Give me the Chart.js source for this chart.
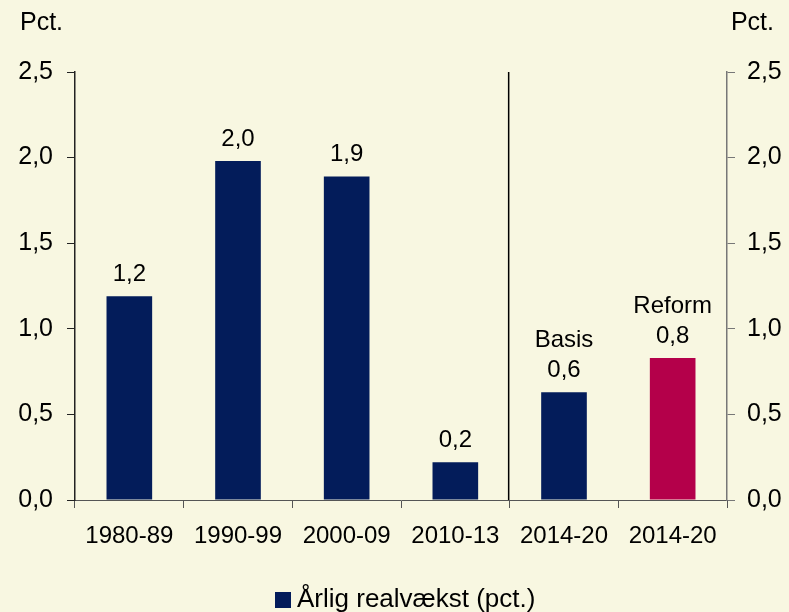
<!DOCTYPE html>
<html>
<head>
<meta charset="utf-8">
<script src="https://cdn.jsdelivr.net/npm/chart.js@4.4.0/dist/chart.umd.min.js"></script>
<style>
  html,body{margin:0;padding:0;background:#F8F7E1;}
  #wrap{width:789px;height:612px;}
</style>
</head>
<body>
<div id="wrap"><canvas id="chart" width="789" height="612"></canvas></div>
<script>
// data
var periods = ["1980-89", "1990-99", "2000-09", "2010-13", "2014-20", "2014-20"];
var growth = [1.19, 1.98, 1.89, 0.22, 0.63, 0.83];
var valueLabels = ["1,2", "2,0", "1,9", "0,2", "0,6", "0,8"];
var topLabels = ["", "", "", "", "Basis", "Reform"];
var barColors = ["#031C5A", "#031C5A", "#031C5A", "#031C5A", "#031C5A", "#B4004A"];
var seriesName = "Årlig realvækst (pct.)";

var FONT = 'Arial, "Liberation Sans", sans-serif';
Chart.defaults.font.family = FONT;
Chart.defaults.color = '#000';

function fmt(v){ return v.toFixed(1).replace('.', ','); }

var extras = {
  id: 'extras',
  afterDatasetsDraw: function(chart){
    var ctx = chart.ctx;
    var area = chart.chartArea;
    var xs = chart.scales.x;
    var meta = chart.getDatasetMeta(0);
    ctx.save();
    // divider between history and projections
    var sx = (xs.getPixelForTick(3) + xs.getPixelForTick(4)) / 2 - 1;
    ctx.strokeStyle = '#000';
    ctx.lineWidth = 1.5;
    ctx.beginPath();
    ctx.moveTo(sx, area.top);
    ctx.lineTo(sx, area.bottom);
    ctx.stroke();
    // labels on bars
    ctx.fillStyle = '#000';
    ctx.font = '24px ' + FONT;
    ctx.textAlign = 'center';
    ctx.textBaseline = 'middle';
    meta.data.forEach(function(bar, i){
      ctx.fillText(valueLabels[i], bar.x, bar.y - 22);
      if(topLabels[i]) ctx.fillText(topLabels[i], bar.x, bar.y - 52);
    });
    // unit labels
    ctx.font = '25px ' + FONT;
    ctx.textAlign = 'left';
    ctx.fillText('Pct.', 20, 23);
    ctx.textAlign = 'right';
    ctx.fillText('Pct.', 774, 23);
    // legend
    var ds = chart.data.datasets[0];
    ctx.fillStyle = ds.backgroundColor[0];
    ctx.fillRect(275, 592, 16, 16);
    ctx.fillStyle = '#000';
    ctx.font = '26px ' + FONT;
    ctx.textAlign = 'left';
    ctx.fillText(ds.label, 297, 600);
    ctx.restore();
  }
};

var ctx1 = document.getElementById('chart');
var chart = new Chart(ctx1, {
  type: 'bar',
  data: {
    labels: periods,
    datasets: [{
      label: seriesName,
      data: growth,
      backgroundColor: barColors,
      barPercentage: 0.42,
      categoryPercentage: 1
    }]
  },
  options: {
    responsive: false,
    animation: false,
    layout: { autoPadding: false, padding: { top: 72, left: 0, right: 0, bottom: 0 } },
    plugins: {
      legend: { display: false },
      tooltip: { enabled: false }
    },
    scales: {
      x: {
        grid: { offset: true, drawOnChartArea: false, tickLength: 8, color: '#555' },
        border: { color: '#555', width: 1 },
        ticks: { font: { size: 24 }, color: '#000', padding: 14 },
        afterFit: function(s){ s.height = 112; }
      },
      y: {
        position: 'left',
        min: 0, max: 2.5,
        grid: { drawOnChartArea: false, tickLength: 8, color: '#222' },
        border: { color: '#222', width: 1.5 },
        ticks: { stepSize: 0.5, font: { size: 25 }, color: '#000', padding: 14, callback: function(v){ return fmt(v); } },
        afterFit: function(s){ s.width = 75; }
      },
      y2: {
        position: 'right',
        min: 0, max: 2.5,
        grid: { drawOnChartArea: false, tickLength: 8, color: '#777' },
        border: { color: '#777', width: 1.5 },
        ticks: { stepSize: 0.5, font: { size: 25 }, color: '#000', padding: 12, callback: function(v){ return fmt(v); } },
        afterFit: function(s){ s.width = 62; }
      }
    }
  },
  plugins: [extras]
});
</script>
</body>
</html>
